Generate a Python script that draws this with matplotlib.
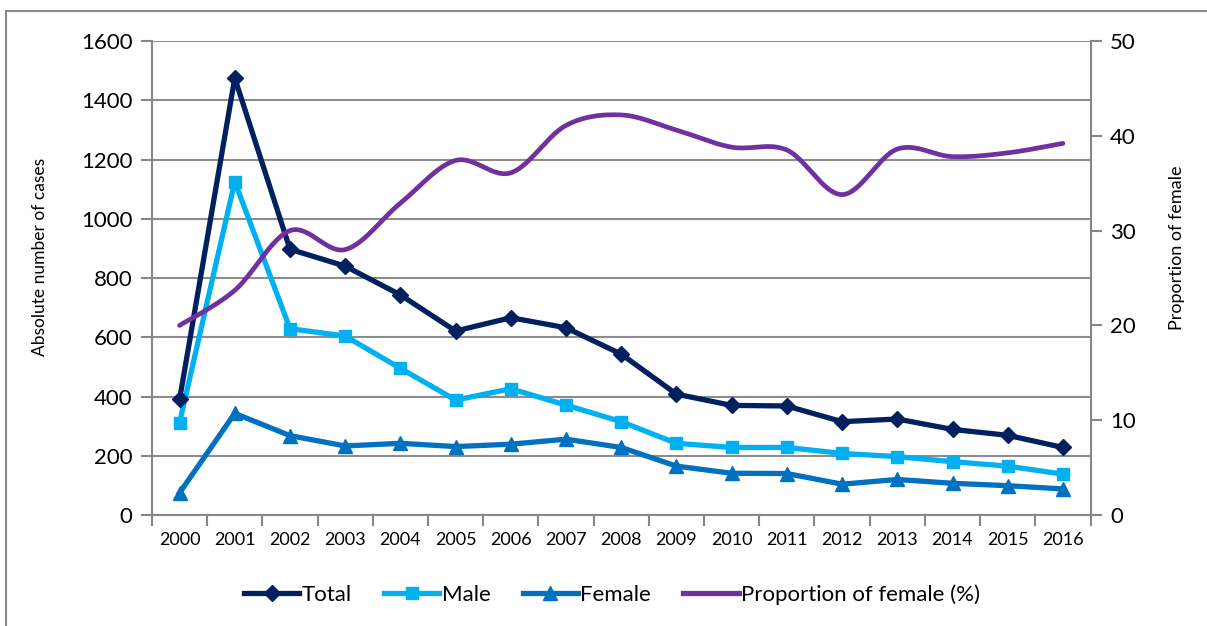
import numpy as np
import matplotlib
matplotlib.use("Agg")
import matplotlib.pyplot as plt
import matplotlib.patches as patches
from matplotlib.lines import Line2D

plt.rcParams['font.family'] = ['Lato', 'DejaVu Sans']

years = [str(y) for y in range(2000, 2017)]
total = [390, 1475, 897, 840, 743, 621, 666, 632, 543, 408, 370, 368, 315, 324, 289, 269, 228]
male = [312, 1125, 629, 604, 495, 388, 426, 371, 315, 242, 228, 228, 208, 197, 180, 165, 138]
female = [75, 343, 268, 233, 242, 231, 239, 256, 228, 165, 141, 140, 104, 120, 107, 99, 88]
prop_female = [20.0, 23.7, 30.0, 28.0, 32.9, 37.4, 36.1, 41.1, 42.2, 40.6, 38.8, 38.5, 33.8, 38.6, 37.8, 38.2, 39.2]

c_total = '#002060'
c_male = '#00B0F0'
c_female = '#0070C0'
c_prop = '#7030A0'
c_axis = '#868686'


def smooth(x, y, n=30):
    # excel-like smoothed line: bezier segments with catmull-rom style control points
    x = np.asarray(x, float)
    y = np.asarray(y, float)
    px = np.concatenate([[x[0]], x, [x[-1]]])
    py = np.concatenate([[y[0]], y, [y[-1]]])
    t = np.linspace(0, 1, n)
    xs, ys = [], []
    for i in range(len(x) - 1):
        p0 = np.array([px[i + 1], py[i + 1]])
        p3 = np.array([px[i + 2], py[i + 2]])
        p1 = p0 + (p3 - np.array([px[i], py[i]])) / 6
        p2 = p3 - (np.array([px[i + 3], py[i + 3]]) - p0) / 6
        b = ((1 - t) ** 3)[:, None] * p0 + (3 * (1 - t) ** 2 * t)[:, None] * p1 \
            + (3 * (1 - t) * t ** 2)[:, None] * p2 + (t ** 3)[:, None] * p3
        xs.extend(b[:, 0])
        ys.extend(b[:, 1])
    return xs, ys


fig = plt.figure(figsize=(12.07, 6.26), dpi=100)
ax = fig.add_axes([0.1259, 0.1773, 0.9035 - 0.1259, 0.9345 - 0.1773])
ax2 = ax.twinx()

xi = np.arange(len(years))

ax.plot(xi, total, color=c_total, lw=3.8, marker='D', ms=8.5, zorder=5)
ax.plot(xi, male, color=c_male, lw=3.8, marker='s', ms=8.5, zorder=4)
ax.plot(xi, female, color=c_female, lw=3.8, marker='^', ms=10, zorder=3)

sx, sy = smooth(xi, prop_female)
ax2.plot(sx, sy, color=c_prop, lw=3.4, solid_capstyle='round')

ax.set_xlim(-0.5, len(years) - 0.5)
ax.set_ylim(0, 1600)
ax2.set_ylim(0, 50)
ax.set_yticks(np.arange(0, 1601, 200))
ax2.set_yticks(np.arange(0, 51, 10))

ax.set_xticks(np.arange(-0.5, len(years), 1))
ax.set_xticklabels([])
ax.set_xticks(xi, minor=True)
ax.set_xticklabels(years, minor=True, fontsize=13)
ax.tick_params(axis='x', which='minor', length=0, pad=12)
ax.tick_params(axis='x', which='major', length=8, width=1.5, color=c_axis, direction='out')

ax.tick_params(axis='y', length=8, width=1.5, color=c_axis, labelsize=16, pad=6)
ax2.tick_params(axis='y', length=8, width=1.5, color=c_axis, labelsize=16, pad=6)

ax.grid(axis='y', color='#8c8c8c', lw=1.5)
ax.set_axisbelow(True)

for a in (ax, ax2):
    a.spines['top'].set_visible(False)
    for s in ('left', 'right', 'bottom'):
        a.spines[s].set_color(c_axis)
        a.spines[s].set_linewidth(1.5)
ax2.spines['left'].set_visible(False)
ax2.spines['bottom'].set_visible(False)
ax.spines['right'].set_visible(False)

fig.text(0.033, 0.59, 'Absolute number of cases', rotation=90, ha='center', va='center', fontsize=12.5)
fig.text(0.975, 0.605, 'Proportion of female', rotation=90, ha='center', va='center', fontsize=13)

handles = [
    Line2D([], [], color=c_total, lw=3.8, marker='D', ms=8.5),
    Line2D([], [], color=c_male, lw=3.8, marker='s', ms=8.5),
    Line2D([], [], color=c_female, lw=3.8, marker='^', ms=10),
    Line2D([], [], color=c_prop, lw=3.8),
]
labels = ['Total', 'Male', 'Female', 'Proportion of female (%)']
fig.legend(handles, labels, loc='center', bbox_to_anchor=(0.507, 0.05), ncol=4, frameon=False,
           fontsize=16, handlelength=2.5, handletextpad=0.1, columnspacing=1.45)

# outer chart border (right and bottom edges cut off in the original)
border = patches.Rectangle((0.005, -0.2), 1.2, 0.9824 + 0.2, transform=fig.transFigure,
                           fill=False, edgecolor='#898989', lw=1.5)
fig.patches.append(border)

fig.savefig('out.png', dpi=100)
